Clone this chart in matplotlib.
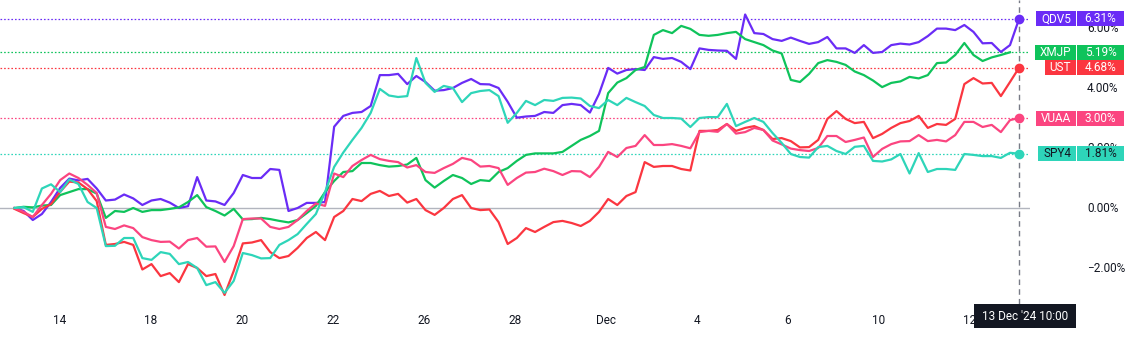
import numpy as np
import matplotlib.pyplot as plt
from matplotlib import transforms
from matplotlib.patches import Rectangle

plt.rcParams['font.family'] = ['Roboto', 'DejaVu Sans']

# trading-day axis: 0 = 13 Nov session start, data ends 13 Dec '24 10:00
tick_days = [1, 3, 5, 7, 9, 11, 13, 15, 17, 19, 21]
tick_labels = ['14', '18', '20', '22', '26', '28', 'Dec', '4', '6', '10', '12']
end_day = 22.08
end_label = "13 Dec '24 10:00"

names = ['QDV5', 'XMJP', 'UST', 'VUAA', 'SPY4']
colors = ['#6a2cf6', '#0fc35b', '#fb3640', '#fb4580', '#2ed5b9']
text_colors = ['white', 'white', 'white', 'white', '#131722']

qdv5 = [0.0, -0.1, -0.4, -0.2, 0.2, 0.67, 0.98, 0.92, 0.97, 0.65,
        0.25, 0.28, 0.45, 0.32, 0.1, 0.25, 0.3, 0.18, 0.0, 0.06,
        1.03, 0.25, 0.22, 0.1, 0.5, 1.1, 1.0, 1.0, 1.3, 1.27,
        -0.1, 0.0, 0.17, 0.17, 0.2, 2.71, 3.07, 3.17, 3.2, 3.4,
        4.43, 4.43, 4.47, 4.13, 4.4, 4.2, 3.91, 3.93, 4.0, 4.17,
        4.3, 4.13, 4.12, 4.0, 3.54, 3.01, 3.05, 3.07, 3.2, 3.17,
        3.43, 3.47, 3.43, 3.18, 3.8, 4.67, 4.48, 4.6, 4.63, 4.6,
        5.03, 4.97, 5.0, 4.87, 4.63, 5.32, 5.27, 5.25, 5.24, 4.97,
        6.45, 5.83, 5.8, 5.63, 5.57, 5.68, 5.57, 5.47, 5.53, 5.7,
        5.32, 5.32, 5.17, 5.43, 5.17, 5.2, 5.43, 5.48, 5.45, 5.53,
        5.73, 5.98, 5.98, 5.93, 6.1, 5.87, 5.49, 5.5, 5.2, 5.43, 6.31]

xmjp = [0.0, 0.04, 0.02, 0.08, 0.1, 0.43, 0.53, 0.63, 0.63, 0.48,
        -0.33, -0.1, -0.13, 0.0, -0.13, -0.07, -0.07, -0.03, 0.02, 0.2,
        0.43, 0.03, -0.1, -0.25, -0.03, -0.38, -0.37, -0.33, -0.37, -0.43,
        -0.48, -0.4, -0.17, 0.07, 0.53, 0.9, 1.2, 1.23, 1.5, 1.5,
        1.43, 1.38, 1.4, 1.45, 1.67, 0.93, 0.68, 0.9, 1.1, 1.0,
        0.8, 0.93, 0.9, 1.2, 1.33, 1.57, 1.77, 1.82, 1.82, 1.82,
        1.87, 2.07, 2.27, 2.4, 2.57, 3.83, 4.18, 4.33, 4.6, 4.7,
        5.77, 5.93, 5.83, 6.07, 5.97, 5.77, 5.74, 5.77, 5.83, 5.87,
        5.63, 5.53, 5.43, 5.25, 5.15, 4.27, 4.2, 4.47, 4.83, 4.93,
        4.87, 4.77, 4.55, 4.43, 4.25, 4.03, 4.17, 4.22, 4.37, 4.32,
        4.43, 4.83, 4.85, 5.1, 5.5, 5.1, 4.9, 5.02, 5.1, 5.19]

ust = [-0.03, -0.17, -0.3, -0.03, 0.13, 0.54, 0.88, 0.85, 0.63, 0.23,
       -1.23, -1.2, -1.13, -1.23, -2.05, -1.87, -2.27, -2.17, -2.47, -1.87,
       -2.0, -2.27, -2.2, -2.9, -2.1, -1.18, -1.15, -1.07, -1.47, -1.67,
       -1.6, -1.33, -1.0, -0.8, -1.07, -0.3, -0.1, 0.3, 0.23, 0.47,
       0.57, 0.4, 0.47, 0.18, 0.3, -0.07, -0.23, 0.0, 0.3, 0.43,
       0.0, -0.07, -0.05, -0.47, -1.2, -1.0, -0.67, -0.8, -0.63, -0.47,
       -0.43, -0.5, -0.6, -0.43, -0.13, 0.3, 0.1, 0.4, 0.53, 1.53,
       1.37, 1.4, 1.4, 1.3, 1.25, 2.57, 2.57, 2.6, 2.8, 2.57,
       2.67, 2.73, 2.6, 2.3, 2.33, 2.23, 2.02, 2.03, 2.27, 2.97,
       3.23, 2.97, 2.83, 2.87, 2.33, 2.47, 2.67, 2.83, 2.9, 3.07,
       2.67, 2.8, 2.77, 2.97, 4.13, 4.33, 4.15, 4.17, 3.73, 4.2, 4.68]

vuaa = [0.0, -0.13, -0.3, 0.1, 0.47, 0.93, 1.15, 1.0, 0.77, 0.5,
        -0.63, -0.7, -0.58, -0.67, -0.97, -1.07, -1.13, -1.12, -1.35, -1.07,
        -1.0, -1.29, -1.28, -1.8, -1.27, -0.37, -0.35, -0.35, -0.63, -0.7,
        -0.63, -0.4, -0.1, 0.15, 0.07, 1.15, 1.03, 1.4, 1.6, 1.77,
        1.63, 1.57, 1.53, 1.35, 1.43, 1.2, 1.17, 1.33, 1.47, 1.67,
        1.6, 1.38, 1.4, 1.33, 0.77, 1.0, 1.18, 1.2, 1.31, 1.23,
        1.1, 1.23, 1.22, 1.03, 1.37, 1.87, 1.7, 2.0, 2.07, 2.43,
        2.1, 2.1, 2.13, 2.07, 1.99, 2.53, 2.57, 2.54, 2.8, 2.48,
        2.53, 2.67, 2.6, 2.25, 2.12, 1.98, 1.93, 1.9, 2.0, 2.4,
        2.4, 2.2, 2.27, 2.35, 1.7, 1.97, 2.13, 2.22, 2.23, 2.43,
        2.23, 2.27, 2.22, 2.43, 2.87, 2.87, 2.7, 2.77, 2.53, 2.93, 3.0]

spy4 = [0.0, 0.03, -0.13, 0.65, 0.79, 0.53, 0.95, 0.8, 0.2, 0.0,
        -1.27, -1.26, -1.0, -1.0, -1.67, -1.73, -1.47, -1.53, -1.87, -1.8,
        -2.0, -2.57, -2.47, -2.83, -2.43, -1.5, -1.57, -1.68, -1.67, -1.23,
        -1.07, -0.87, -0.53, -0.2, 0.53, 1.37, 1.85, 2.27, 2.67, 3.17,
        3.97, 3.75, 3.7, 3.73, 5.0, 4.17, 3.87, 4.07, 4.0, 3.53,
        3.83, 3.9, 3.93, 3.73, 2.84, 3.17, 3.57, 3.43, 3.6, 3.57,
        3.67, 3.68, 3.65, 3.4, 3.33, 3.6, 3.43, 3.67, 3.53, 3.4,
        3.1, 3.0, 3.0, 2.98, 2.7, 3.0, 3.03, 3.03, 3.47, 2.73,
        2.87, 3.0, 2.87, 2.5, 2.17, 1.8, 1.7, 1.68, 2.03, 2.07,
        1.9, 1.8, 2.04, 2.07, 1.57, 1.55, 1.62, 1.8, 1.15, 1.83,
        1.2, 1.3, 1.3, 1.27, 1.8, 1.77, 1.73, 1.73, 1.67, 1.84, 1.81]

series = [qdv5, xmjp, ust, vuaa, spy4]
price_ticks = [6, 4, 2, 0, -2]

W, H = 1139, 343
fig = plt.figure(figsize=(W / 100, H / 100), dpi=100)
ax = fig.add_axes([0, (H - 304) / H, 1030 / W, 304 / H])

step = end_day / (len(qdv5) - 1)
for vals, c in zip(series, colors):
    xs = np.arange(len(vals)) * step
    ax.plot(xs, vals, color=c, lw=1.6, solid_joinstyle='round', zorder=3)
    ax.axhline(vals[-1], color=c, lw=0.9, ls=(0, (1.3, 1.6)), zorder=1)

ax.axhline(0, color='#b2b5be', lw=1, zorder=1)
ax.axvline(end_day, color='#787b86', lw=1, ls=(0, (4, 3)), zorder=2)
for vals, c, nm in zip(series, colors, names):
    if nm != 'XMJP':
        ax.plot(end_day, vals[-1], 'o', ms=6, color=c, zorder=5)

ax.set_xlim(-14.5 / 45.5, (1030 - 14.5) / 45.5)
ax.set_ylim((208 - 304) / 30, 208 / 30)
ax.set_xticks(tick_days)
ax.set_xticklabels(tick_labels)
ax.tick_params(axis='x', length=0, pad=7, labelsize=8.5, labelcolor='#131722')
ax.set_yticks([])
for s in ax.spines.values():
    s.set_visible(False)

blend = transforms.blended_transform_factory(fig.transFigure, ax.transData)

for p in price_ticks:
    ax.text(1087 / W, p, f'{p:.2f}%'.replace('-', '\u2212'), transform=blend,
            ha='left', va='center', fontsize=8.5, color='#131722', clip_on=False)

renderer = fig.canvas.get_renderer()
for vals, c, tc, nm in zip(series, colors, text_colors, names):
    v = vals[-1]
    t = ax.text(1071 / W, v, nm, transform=blend, ha='right', va='center',
                fontsize=8.5, color=tc, zorder=11, clip_on=False)
    w = t.get_window_extent(renderer).width
    ax.add_patch(Rectangle(((1071 - w - 5) / W, v - 0.25), (w + 10) / W, 0.5,
                           transform=blend, facecolor=c, edgecolor='none',
                           zorder=10, clip_on=False))
    ax.add_patch(Rectangle((1077 / W, v - 0.25), 47 / W, 0.5, transform=blend,
                           facecolor=c, edgecolor='none', zorder=10, clip_on=False))
    ax.text(1100.5 / W, v, f'{v:.2f}%', transform=blend, ha='center', va='center',
            fontsize=8.5, color=tc, zorder=11, clip_on=False)

fig.patches.append(Rectangle((974 / W, (H - 328) / H), 102 / W, 24 / H,
                             transform=fig.transFigure, facecolor='#131722',
                             edgecolor='none', zorder=20))
fig.text(1025 / W, (H - 316) / H, end_label, ha='center', va='center',
         fontsize=8.5, color='white', zorder=21)

fig.savefig('out.png', dpi=100)
